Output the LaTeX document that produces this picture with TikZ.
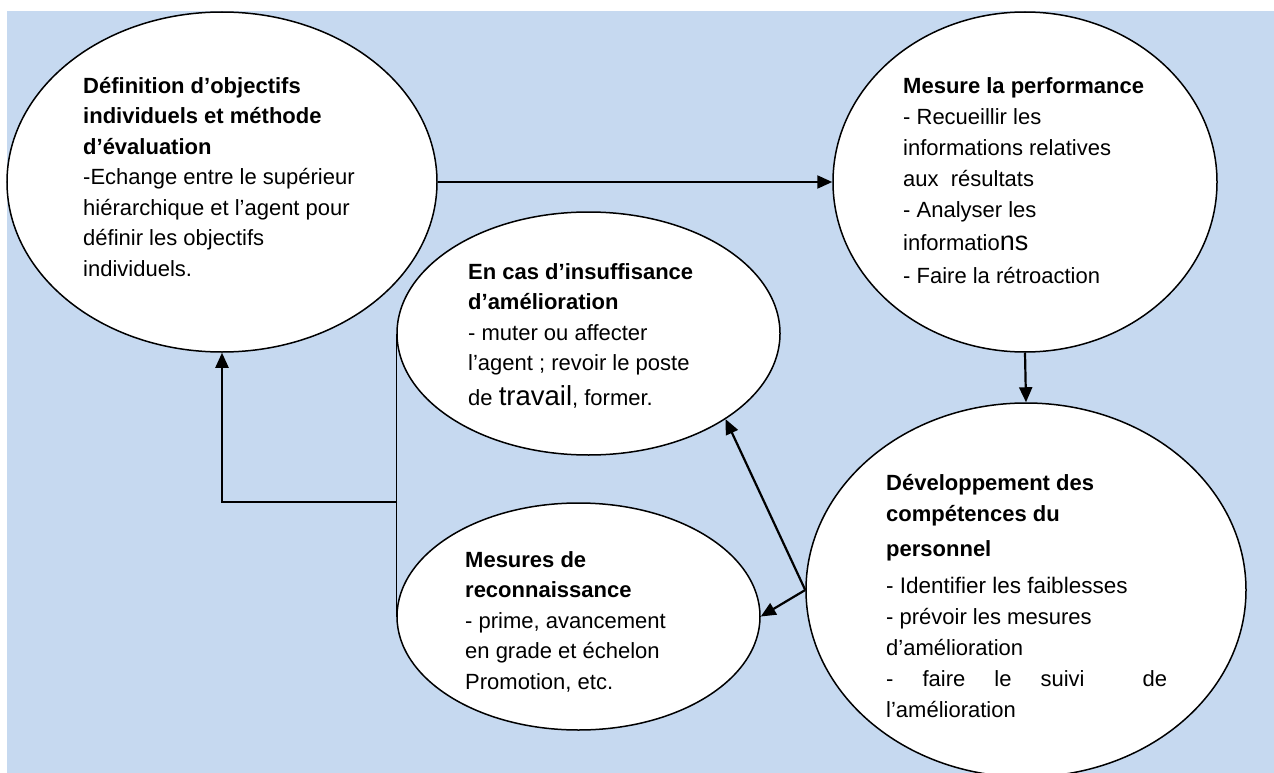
\documentclass[tikz,border=0pt]{standalone}
\usepackage{fontspec}
\setmainfont{Liberation Sans}
\usetikzlibrary{arrows.meta,shapes.geometric}
\definecolor{panel}{RGB}{198,217,240}
\begin{document}
\begin{tikzpicture}[x=1pt,y=-1pt,
  bubble/.style={draw=black,line width=1.5pt,fill=white,ellipse,inner sep=0pt},
  blurb/.style={anchor=north west,inner sep=0pt,align=left,font=\fontsize{22}{30.5}\selectfont},
  link/.style={line width=2.2pt,-{Triangle[length=15pt,width=13pt]}},
  bar/.style={line width=1.2pt}]
\useasboundingbox (0,0) rectangle (1274,773);
\fill[panel] (7,11) rectangle (1274,773);

% the five stages
\node[bubble,minimum width=430pt,minimum height=340pt] (e1) at (222,182) {};
\node[bubble,minimum width=384pt,minimum height=340pt] (e2) at (1025,182) {};
\node[bubble,minimum width=383pt,minimum height=243pt] (e3) at (588.5,333.5) {};
\node[bubble,minimum width=440pt,minimum height=374pt] (e4) at (1026,590) {};
\node[bubble,minimum width=363pt,minimum height=227pt] (e5) at (578.5,616.5) {};

% texts (first baseline = top + 20pt)
\node[blurb] (t1) at (83,73) {\rule{0pt}{20pt}\textbf{Définition d’objectifs}\\
  \textbf{individuels et méthode}\\
  \textbf{d’évaluation}\\
  -Echange entre le supérieur\\
  hiérarchique et l’agent pour\\
  définir les objectifs\\
  individuels.};

\node[blurb,font=\fontsize{22}{31}\selectfont] (t2) at (903,73) {\rule{0pt}{20pt}\textbf{Mesure la performance}\\
  - Recueillir les\\
  informations relatives\\
  aux\ \ résultats\\
  - Analyser les\\[2pt]
  informatio{\fontsize{27}{31}\selectfont ns}\\[2pt]
  - Faire la rétroaction};

\node[blurb] (t3) at (468,259) {\rule{0pt}{20pt}\textbf{En cas d’insuffisance}\\
  \textbf{d’amélioration}\\
  - muter ou affecter\\
  l’agent ; revoir le poste\\[4pt]
  de {\fontsize{27.5}{30.5}\selectfont travail}, former.};

\node[blurb] (t5) at (465,547) {\rule{0pt}{20pt}\textbf{Mesures de}\\
  \textbf{reconnaissance}\\
  - prime, avancement\\
  en grade et échelon\\
  Promotion, etc.};

\node[blurb,font=\fontsize{22}{31}\selectfont] (t4) at (886,470) {\rule{0pt}{20pt}\textbf{Développement des}\\
  \textbf{compétences du}\\[4pt]
  \textbf{personnel}\\[6pt]
  {\fontsize{22.5}{31}\selectfont - Identifier les faiblesses}\\
  - prévoir les mesures\\
  d’amélioration\\
  \makebox[281pt][l]{-\hfill faire\hfill le\hfill suivi\hfill\hfill de}\\
  l’amélioration};

% connectors
\draw[link] (e1.east) -- (e2.west);
\draw[link] (e2.south) -- (e4.north);
\draw[link] (e4.west) -- (e3.-32.7);
\draw[link] (e4.west) -- (e5.east);
\draw[bar] (e3.west) -- (e5.west);
\coordinate (j) at (397,502);
\draw[link] (j) -| (e1.south);
\end{tikzpicture}
\end{document}
